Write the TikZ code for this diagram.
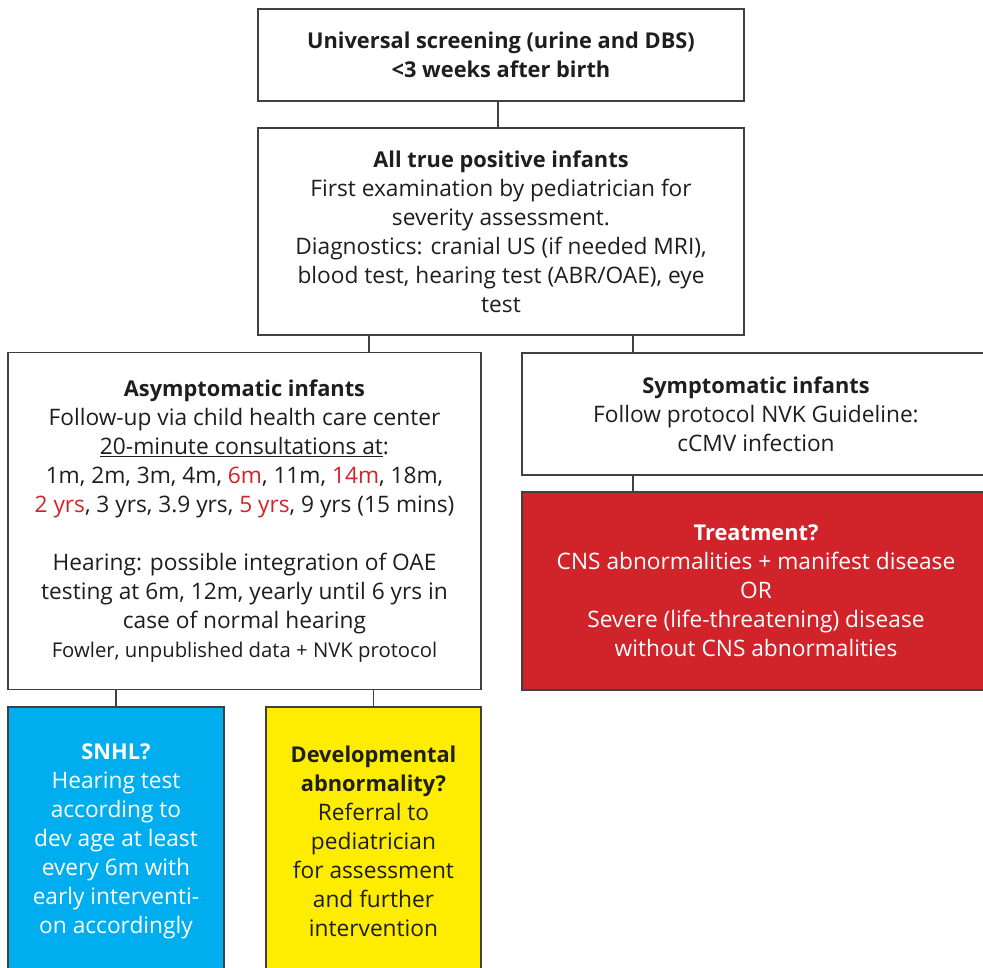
\documentclass[tikz,border=0pt]{standalone}
\usepackage{fontspec}
\setmainfont{Open Sans}
\definecolor{linegray}{HTML}{404040}
\definecolor{txtdark}{HTML}{1E1E1E}
\definecolor{cred}{HTML}{D1232A}
\definecolor{cblue}{HTML}{00AEEF}
\definecolor{cyellow}{HTML}{FFED00}
\newcommand{\ttl}[1]{{\fontsize{21.8}{29}\selectfont\bfseries #1}}
\tikzset{
  box/.style={draw=linegray,line width=1.4pt,align=center,inner sep=0pt,
    text=txtdark,font=\fontsize{22.7}{29}\selectfont},
  link/.style={draw=linegray,line width=1.4pt}
}
\begin{document}
\begin{tikzpicture}[x=1pt,y=-1pt]
\clip (0,0) rectangle (983,968);
\fill[white] (0,0) rectangle (983,968);
\node[box,minimum width=486pt,minimum height=92pt] (screen) at (501,55)
  {\ttl{Universal screening (urine and DBS)}\\\ttl{<3 weeks after birth}};
\node[box,minimum width=486pt,minimum height=207pt] (positive) at (501,231.5)
  {\ttl{All true positive infants}\\First examination by pediatrician for\\severity assessment.\\Diagnostics: cranial US (if needed MRI),\\blood test, hearing test (ABR/OAE), eye\\test};
\node[box,minimum width=473pt,minimum height=337pt] (asym) at (244.5,521)
  {\ttl{Asymptomatic infants}\\Follow-up via child health care center\\\underline{20-minute consultations at}:\\
   1m, 2m, 3m, 4m, \textcolor{cred}{6m}, 11m, \textcolor{cred}{14m}, 18m,\\
   \textcolor{cred}{2 yrs}, 3 yrs, 3.9 yrs, \textcolor{cred}{5 yrs}, 9 yrs (15 mins)\\[29pt]
   Hearing: possible integration of OAE\\testing at 6m, 12m, yearly until 6 yrs in\\case of normal hearing\\
   {\fontsize{20.3}{22}\selectfont Fowler, unpublished data + NVK protocol}};
\node[box,minimum width=468pt,minimum height=122pt] (sym) at (756,414)
  {\ttl{Symptomatic infants}\\Follow protocol NVK Guideline:\\cCMV infection};
\node[box,fill=cred,text=white,minimum width=468pt,minimum height=198pt] (treat) at (756,591)
  {\ttl{Treatment?}\\CNS abnormalities + manifest disease\\OR\\Severe (life-threatening) disease\\without CNS abnormalities};
\node[box,fill=cblue,text=white,minimum width=216pt,minimum height=268pt] (snhl) at (116,841)
  {\ttl{SNHL?}\\Hearing test\\according to\\dev age at least\\every 6m with\\early interventi-\\on accordingly};
\node[box,fill=cyellow,minimum width=215pt,minimum height=268pt] (devel) at (373.5,841)
  {\ttl{Developmental}\\\ttl{abnormality?}\\Referral to\\pediatrician\\for assessment\\and further\\intervention};
\draw[link] ([xshift=-3pt]screen.south) -- ([xshift=-3pt]positive.north);
\draw[link] ([xshift=-132pt]positive.south) -- ([xshift=-132pt]positive.south |- asym.north);
\draw[link] ([xshift=132pt]positive.south) -- ([xshift=132pt]positive.south |- sym.north);
\draw[link] ([xshift=-123pt]sym.south) -- ([xshift=-123pt]sym.south |- treat.north);
\draw[link] (snhl.north |- asym.south) -- (snhl.north);
\draw[link] (devel.north |- asym.south) -- (devel.north);
\end{tikzpicture}
\end{document}
